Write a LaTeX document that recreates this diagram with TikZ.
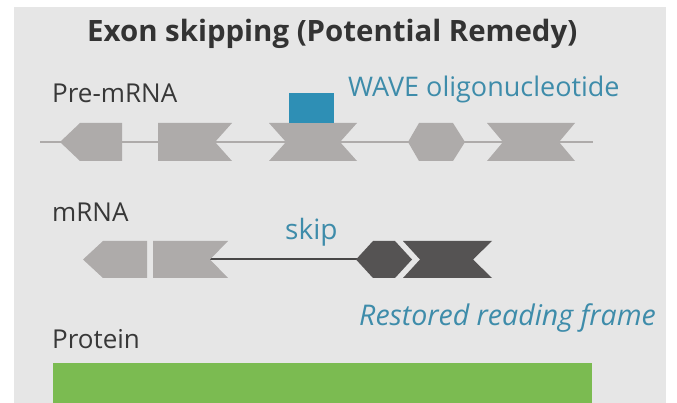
\documentclass[tikz,border=0pt]{standalone}
\usepackage{fontspec}
\setmainfont{Open Sans}
\definecolor{panel}{HTML}{E6E6E6}
\definecolor{exongrey}{HTML}{AEABAA}
\definecolor{exondark}{HTML}{555353}
\definecolor{wave}{HTML}{2E8FB5}
\definecolor{wavetext}{HTML}{3E8CAA}
\definecolor{txt}{HTML}{383838}
\definecolor{protein}{HTML}{7BBB51}
\tikzset{
  exon/.style={fill=exongrey},
  exondk/.style={fill=exondark},
  lbl/.style={anchor=base west, inner sep=0pt, text=txt, font=\fontsize{26}{26}\selectfont},
  bluelbl/.style={anchor=base west, inner sep=0pt, text=wavetext, font=\fontsize{27}{27}\selectfont},
  backbone/.style={draw=exongrey, line width=2.2pt},
  spliced/.style={draw=exondark!85!black, line width=2pt}
}
\begin{document}
\begin{tikzpicture}[x=1pt,y=-1pt]
\useasboundingbox (0,0) rectangle (677,403);
\fill[white] (0,0) rectangle (677,403);
\fill[panel] (14,7) rectangle (666,403);
% title
\node[anchor=base west, inner sep=0pt, text=black!80, font=\fontsize{29.4}{29.4}\selectfont\bfseries] (title) at (87,42) {Exon skipping (Potential Remedy)};
% labels
\node[lbl] (pre) at (52,103) {Pre-mRNA};
\node[lbl] (mrna) at (52,222) {mRNA};
\node[lbl] (prot) at (52,348) {Protein};
\node[bluelbl] (wavelbl) at (348,97) {WAVE oligonucleotide};
\node[bluelbl, font=\fontsize{28}{28}\selectfont] (skiplbl) at (285,240) {skip};
\node[bluelbl, font=\fontsize{28.5}{28.5}\selectfont\itshape] (restored) at (359,325) {Restored reading frame};
% pre-mRNA backbone
\coordinate (preL) at (40,142);
\coordinate (preR) at (593,142);
\draw[backbone] (preL) -- (preR);
% pre-mRNA exons
\fill[exon] (60,142) -- (80,123) -- (122,123) -- (122,161) -- (80,161) -- cycle;
\fill[exon] (158,123) -- (232,123) -- (215,142) -- (232,161) -- (158,161) -- cycle;
\fill[exon] (269,123) -- (357,123) -- (340,142) -- (357,161) -- (269,161) -- (286,142) -- cycle;
\fill[exon] (408,142) -- (419,123) -- (453,123) -- (465,142) -- (453,161) -- (419,161) -- cycle;
\fill[exon] (487,123) -- (575,123) -- (559,142) -- (575,161) -- (487,161) -- (503,142) -- cycle;
% WAVE oligo
\fill[wave] (289,93) rectangle (334,123);
% mRNA
\coordinate (mnotch) at (210,259.5);
\coordinate (hexL) at (357,259.5);
\draw[spliced] (mnotch) -- (hexL);
\fill[exon] (83,259.5) -- (103,241) -- (147,241) -- (147,278) -- (103,278) -- cycle;
\fill[exon] (153,241) -- (228,241) -- (210,259.5) -- (228,278) -- (153,278) -- cycle;
\fill[exondk] (356,259.5) -- (373,241) -- (395,241) -- (412,259.5) -- (395,278) -- (373,278) -- cycle;
\fill[exondk] (403,241) -- (492,241) -- (473,259.5) -- (492,278) -- (403,278) -- (420,259.5) -- cycle;
% protein
\fill[protein] (53,363) rectangle (592,403);
\end{tikzpicture}
\end{document}
